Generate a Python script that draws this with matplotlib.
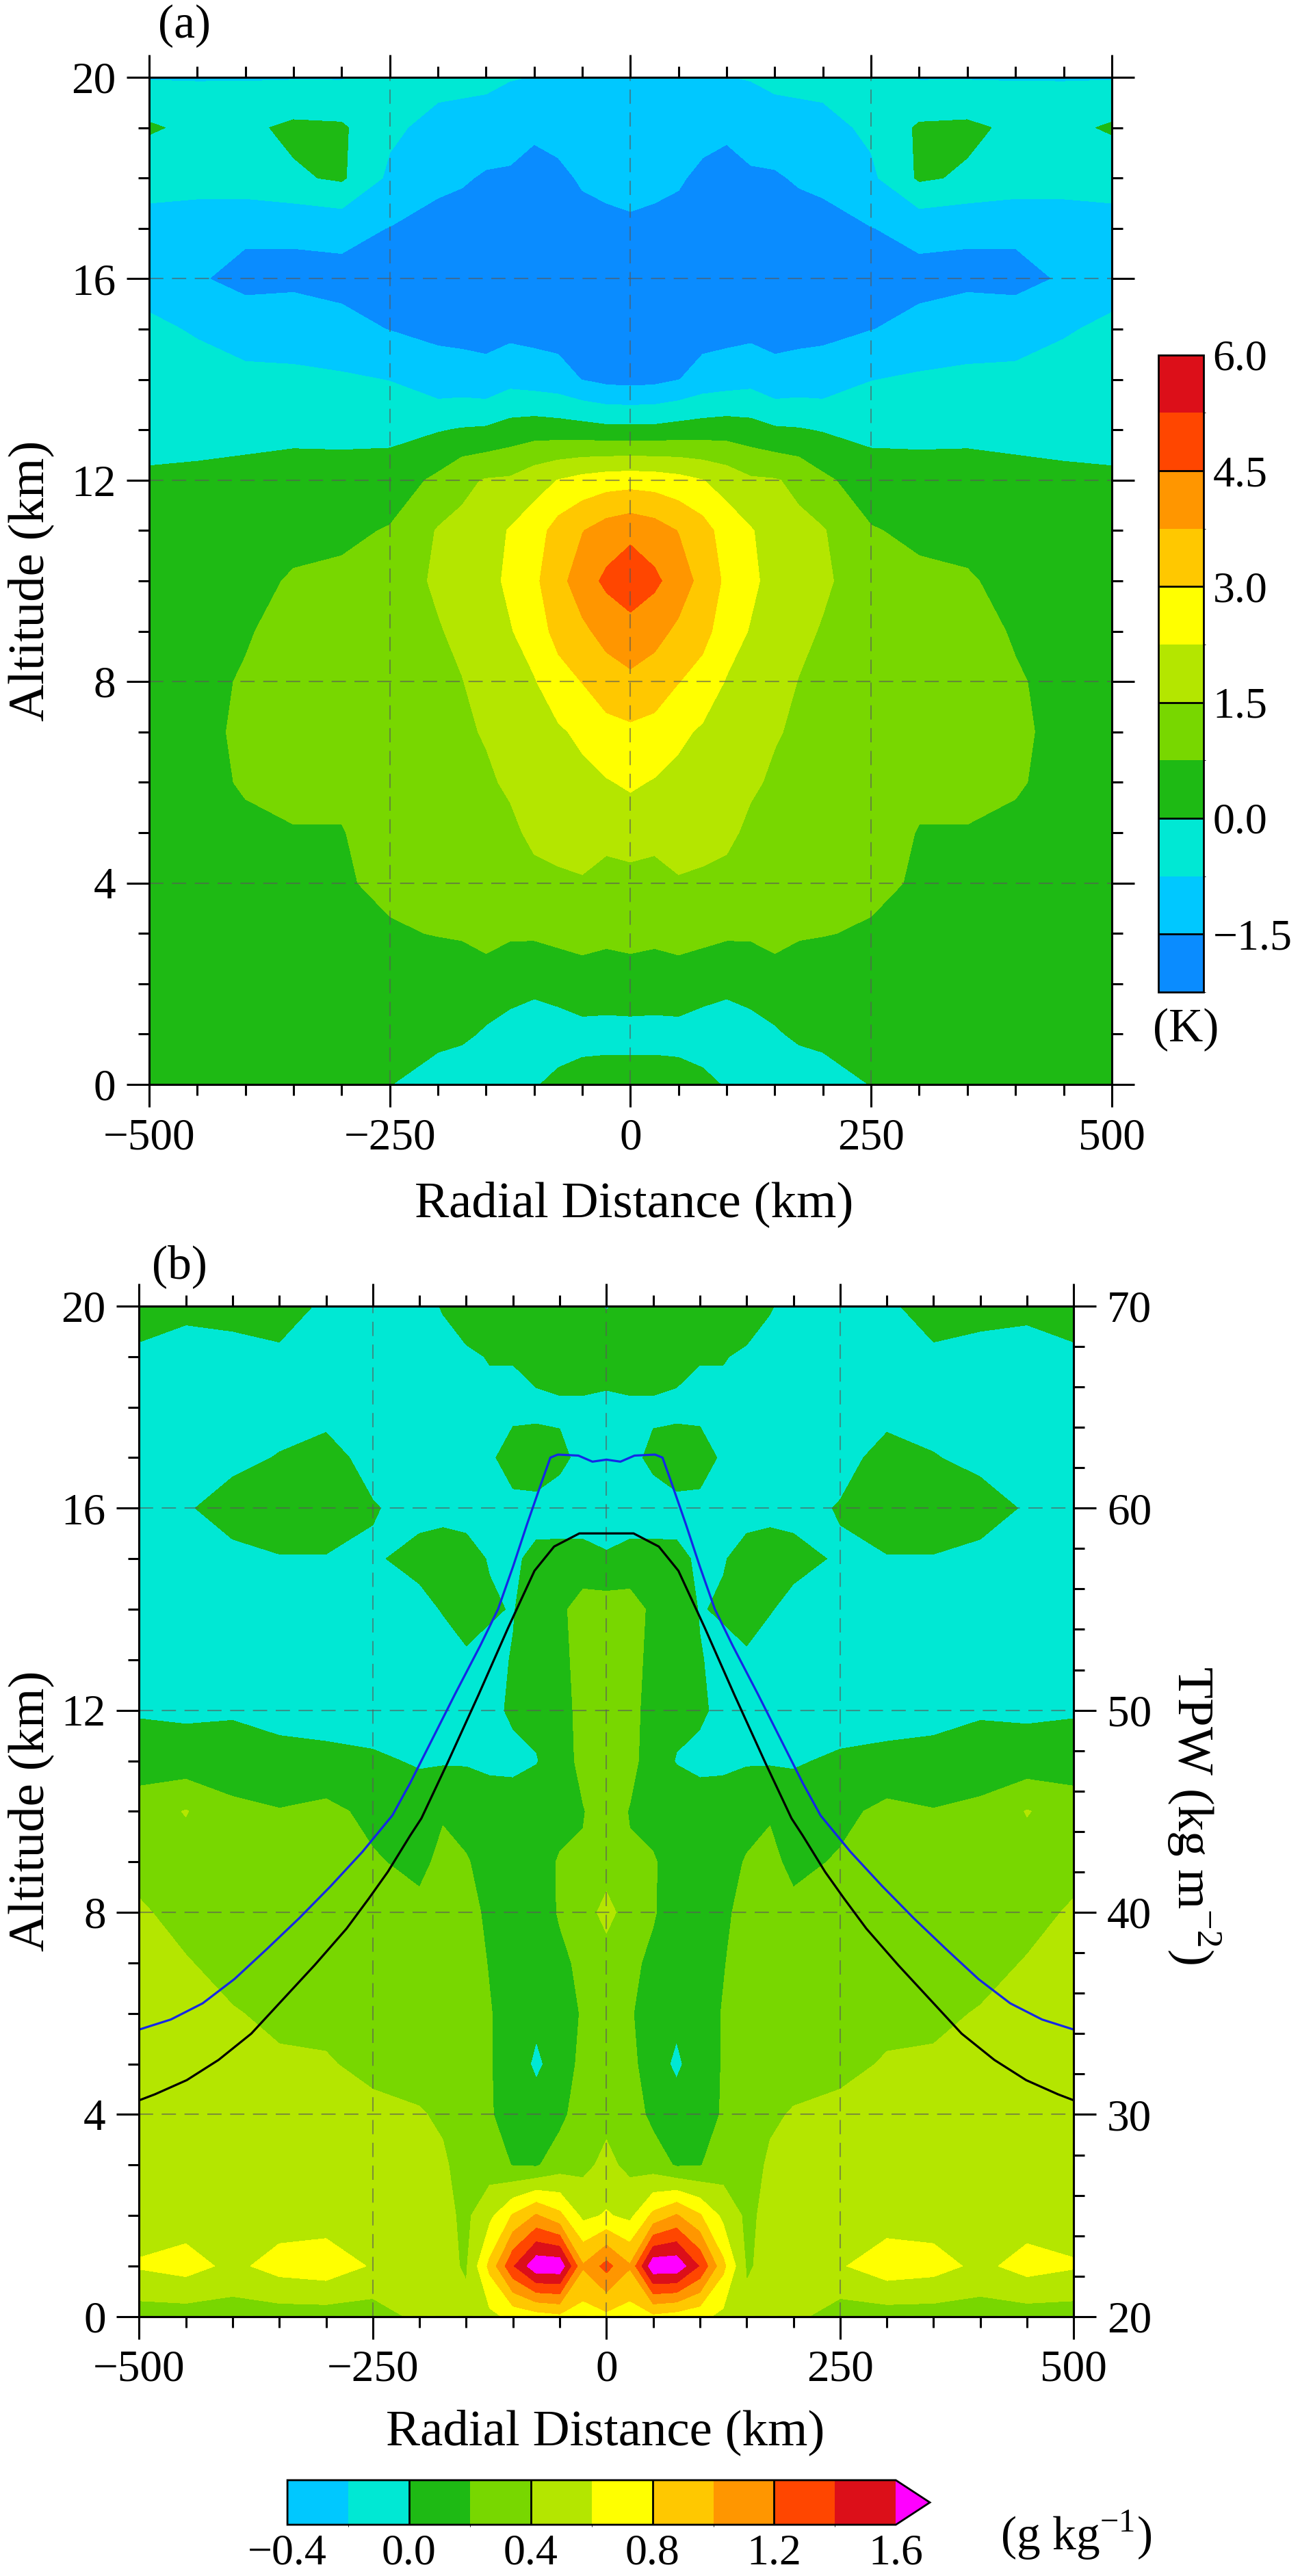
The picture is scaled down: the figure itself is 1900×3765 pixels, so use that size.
import numpy as np
import matplotlib
matplotlib.use("Agg")
import matplotlib.pyplot as plt
from matplotlib.colors import ListedColormap, BoundaryNorm
from matplotlib.ticker import MultipleLocator, FuncFormatter

plt.rcParams['font.family'] = ['Liberation Serif', 'DejaVu Serif']
plt.rcParams['mathtext.fontset'] = 'custom'
plt.rcParams['mathtext.rm'] = 'Liberation Serif'

# grid: radial distance of the right half (km), the fields are mirror symmetric
r_half = [0, 25, 50, 75, 100, 125, 150, 175, 200, 250, 300, 350, 400, 450, 500]
z_km = list(range(0, 21))

# (a) temperature anomaly (K); one list per radius, altitude 0..20 km
temp_cols = [
    [0.35, -0.25, 0.45, 0.95, 1.25, 1.85, 2.35, 2.85, 3.6, 4.2, 5.0, 4.3, 2.7, 0.2, -1.75, -2.0, -1.9, -1.55, -1.4, -1.2, -1.0],
    [0.35, -0.25, 0.4, 0.9, 1.2, 1.75, 2.2, 2.75, 3.4, 4.0, 4.65, 4.1, 2.65, 0.2, -1.7, -1.95, -1.85, -1.6, -1.4, -1.2, -1.0],
    [0.35, -0.3, 0.55, 0.9, 1.45, 1.75, 2.05, 2.4, 3.02, 3.6, 4.15, 3.72, 2.5, 0.3, -1.52, -1.9, -1.85, -1.65, -1.45, -1.2, -1.0],
    [0.15, -0.3, 0.25, 0.95, 1.4, 1.7, 1.9, 2.15, 2.7, 3.25, 3.5, 3.3, 2.27, 0.35, -1.2, -1.8, -1.85, -1.7, -1.6, -1.35, -1.0],
    [-0.05, -0.35, 0.15, 0.85, 1.3, 1.65, 1.85, 2.0, 2.2, 2.6, 2.85, 2.65, 1.95, 0.4, -1.1, -1.75, -1.85, -1.7, -1.6, -1.45, -0.77],
    [-0.3, -0.2, 0.2, 0.85, 1.15, 1.35, 1.6, 1.85, 2.0, 2.2, 2.4, 2.3, 1.6, 0.3, -1.0, -1.7, -1.85, -1.7, -1.55, -1.35, -0.7],
    [-0.45, -0.1, 0.45, 0.95, 1.1, 1.25, 1.4, 1.55, 1.75, 1.9, 2.0, 1.95, 1.55, 0.1, -1.3, -1.7, -1.8, -1.7, -1.55, -1.25, -0.5],
    [-0.55, 0.15, 0.45, 0.8, 1.0, 1.15, 1.3, 1.4, 1.48, 1.65, 1.75, 1.65, 1.35, 0.05, -1.2, -1.7, -1.85, -1.7, -1.45, -1.1, -0.5],
    [-0.35, 0.2, 0.45, 0.77, 0.95, 1.05, 1.15, 1.25, 1.35, 1.45, 1.6, 1.55, 0.9, -0.05, -1.2, -1.65, -1.8, -1.65, -1.4, -1.0, -0.5],
    [0.02, 0.3, 0.5, 0.7, 0.85, 0.95, 1.05, 1.15, 1.2, 1.2, 1.15, 0.8, 0.35, -0.2, -0.77, -1.52, -1.75, -1.52, -0.9, -0.6, -0.55],
    [0.2, 0.35, 0.45, 0.55, 0.7, 0.73, 0.85, 0.95, 1.0, 1.0, 0.9, 0.6, 0.3, -0.2, -0.65, -1.3, -1.7, -1.3, 0.1, 0.1, -0.8],
    [0.3, 0.4, 0.45, 0.5, 0.6, 0.73, 0.85, 0.95, 1.0, 0.95, 0.8, 0.6, 0.25, -0.15, -0.6, -1.1, -1.65, -1.4, -0.1, 0.15, -0.8],
    [0.3, 0.4, 0.45, 0.5, 0.55, 0.65, 0.8, 0.85, 0.8, 0.7, 0.6, 0.5, 0.2, -0.2, -0.5, -1.2, -1.65, -1.4, -0.3, -0.15, -0.8],
    [0.3, 0.35, 0.4, 0.45, 0.5, 0.55, 0.6, 0.6, 0.6, 0.55, 0.5, 0.4, 0.15, -0.25, -0.55, -0.8, -1.45, -1.1, -0.5, -0.2, -0.8],
    [0.3, 0.3, 0.35, 0.4, 0.45, 0.5, 0.5, 0.5, 0.5, 0.45, 0.4, 0.35, 0.1, -0.25, -0.5, -0.65, -0.95, -0.9, -0.6, 0.1, -0.8],
]

# (b) water vapour anomaly (g/kg); one list per radius, altitude 0..20 km
qv_cols = [
    [0.75, 1.27, 0.62, 0.45, 0.35, 0.3, 0.3, 0.3, 0.47, 0.3, 0.3, 0.3, 0.3, 0.3, 0.3, 0.02, -0.1, -0.1, -0.05, 0.1, -0.01],
    [0.7, 1.02, 0.55, 0.35, 0.3, 0.25, 0.22, 0.25, 0.3, 0.22, 0.19, 0.26, 0.28, 0.3, 0.3, 0.05, -0.08, -0.05, -0.03, 0.1, 0.06],
    [0.75, 1.75, 0.85, 0.3, 0.15, 0.1, 0.1, 0.15, 0.22, 0.22, 0.12, 0.1, 0.1, 0.12, 0.15, 0.05, -0.08, 0.04, -0.03, 0.1, 0.1],
    [0.7, 1.75, 1.02, 0.18, 0.1, -0.04, 0.05, 0.05, 0.08, 0.1, 0.12, -0.01, 0.05, 0.1, 0.1, 0.03, -0.05, 0.1, -0.05, 0.08, 0.1],
    [0.65, 1.38, 0.82, 0.19, 0.15, 0.12, 0.12, 0.12, 0.1, 0.1, 0.1, -0.05, 0.03, 0.01, -0.01, -0.02, -0.05, 0.08, -0.05, 0.01, 0.1],
    [0.55, 0.85, 0.55, 0.3, 0.21, 0.21, 0.21, 0.19, 0.17, 0.15, 0.12, -0.05, -0.05, -0.05, 0.02, -0.01, -0.05, -0.03, -0.05, 0.01, 0.1],
    [0.45, 0.38, 0.36, 0.34, 0.32, 0.3, 0.3, 0.28, 0.25, 0.21, 0.15, -0.02, -0.08, -0.03, 0.08, 0.05, -0.05, -0.08, -0.05, -0.03, 0.1],
    [0.45, 0.45, 0.45, 0.42, 0.38, 0.35, 0.32, 0.3, 0.3, 0.25, 0.18, -0.02, -0.1, -0.08, 0.01, 0.08, -0.05, -0.1, -0.1, -0.05, 0.01],
    [0.45, 0.5, 0.48, 0.45, 0.41, 0.35, 0.3, 0.3, 0.25, 0.15, 0.1, -0.02, -0.1, -0.1, -0.05, 0.05, -0.05, -0.1, -0.1, -0.1, -0.05],
    [0.3, 0.58, 0.5, 0.48, 0.43, 0.37, 0.35, 0.32, 0.3, 0.22, 0.15, 0.03, -0.1, -0.12, -0.1, -0.02, 0.01, -0.05, -0.1, -0.1, -0.08],
    [0.3, 0.72, 0.5, 0.48, 0.45, 0.41, 0.37, 0.35, 0.32, 0.3, 0.25, 0.05, -0.08, -0.12, -0.1, -0.01, 0.1, 0.05, -0.05, -0.05, -0.02],
    [0.3, 0.68, 0.5, 0.48, 0.45, 0.42, 0.37, 0.33, 0.3, 0.22, 0.21, 0.05, -0.05, -0.12, -0.1, -0.01, 0.1, 0.01, -0.08, -0.02, 0.05],
    [0.3, 0.55, 0.5, 0.5, 0.47, 0.45, 0.41, 0.35, 0.32, 0.3, 0.25, 0.08, -0.02, -0.1, -0.1, -0.05, 0.08, -0.05, -0.08, -0.05, 0.05],
    [0.3, 0.68, 0.5, 0.5, 0.5, 0.47, 0.45, 0.41, 0.35, 0.32, 0.41, 0.08, -0.03, -0.1, -0.1, -0.08, -0.02, -0.08, -0.08, -0.05, 0.03],
    [0.3, 0.62, 0.5, 0.5, 0.5, 0.5, 0.47, 0.45, 0.42, 0.35, 0.3, 0.1, -0.02, -0.08, -0.1, -0.08, -0.05, -0.05, -0.01, -0.02, 0.05],
]

# total precipitable water (kg m-2), right half
tpw_r_black = [0, 29, 56, 77, 105, 137, 170, 198, 210, 234, 254, 278, 312, 346, 380, 415, 449, 483, 500]
tpw_black = [58.75, 58.75, 58.1, 56.9, 54.1, 50.75, 47.4, 44.65, 43.8, 42.0, 40.7, 39.2, 37.4, 35.7, 34.0, 32.7, 31.7, 31.0, 30.7]
tpw_r_blue = [0, 15, 30, 52, 60, 70, 85, 100, 116, 135, 162, 186, 210, 229, 261, 295, 329, 363, 398, 432, 466, 500]
tpw_blue = [62.4, 62.3, 62.6, 62.65, 62.5, 61.2, 59.2, 57.1, 55.0, 53.2, 50.8, 48.6, 46.4, 44.8, 43.0, 41.3, 39.7, 38.2, 36.7, 35.5, 34.7, 34.2]

temp_levels = [-2.25, -1.5, -0.75, 0.0, 0.75, 1.5, 2.25, 3.0, 3.75, 4.5, 5.25, 6.0]
temp_ticks = [-1.5, 0.0, 1.5, 3.0, 4.5, 6.0]
qv_levels = [-0.4, -0.2, 0.0, 0.2, 0.4, 0.6, 0.8, 1.0, 1.2, 1.4, 1.6]
qv_ticks = [-0.4, 0.0, 0.4, 0.8, 1.2, 1.6]

c_blue, c_sky, c_turq = '#0A8CFF', '#00C8FF', '#00E8D4'
c_green, c_lgreen, c_ygreen = '#1EBA14', '#78D700', '#B4E600'
c_yellow, c_gold, c_orange = '#FFFF00', '#FFC800', '#FF9600'
c_redor, c_red, c_mag = '#FF4600', '#DC0F19', '#FF00FF'

temp_colors = [c_blue, c_sky, c_turq, c_green, c_lgreen, c_ygreen,
               c_yellow, c_gold, c_orange, c_redor, c_red]
qv_colors = [c_sky, c_turq, c_green, c_lgreen, c_ygreen,
             c_yellow, c_gold, c_orange, c_redor, c_red]


def mirror(cols):
    half = np.array(cols).T
    return np.hstack([half[:, :0:-1], half])


r_arr = np.array(r_half)
r_full = np.concatenate([-r_arr[:0:-1], r_arr])
R, Z = np.meshgrid(r_full, np.array(z_km))
T = mirror(temp_cols)
Q = mirror(qv_cols)


def full_line(rr, vv):
    rr = np.array(rr)
    vv = np.array(vv)
    return np.concatenate([-rr[:0:-1], rr]), np.concatenate([vv[:0:-1], vv])


minus_fmt = FuncFormatter(lambda v, p: ('%.1f' % v).replace('-', '\u2212'))

fig = plt.figure(figsize=(19, 37.65), dpi=100)
ax_a = fig.add_axes([0.1147, 0.5790, 0.7405, 0.3910])
ax_b = fig.add_axes([0.1070, 0.1007, 0.7190, 0.3923])
cax_a = fig.add_axes([0.8910, 0.6149, 0.0347, 0.2473])
cax_b = fig.add_axes([0.2211, 0.0199, 0.4942, 0.0173])


def style_axes(ax, right=True):
    ax.set_xlim(-500, 500)
    ax.set_ylim(0, 20)
    ax.xaxis.set_major_locator(MultipleLocator(250))
    ax.xaxis.set_minor_locator(MultipleLocator(50))
    ax.yaxis.set_major_locator(MultipleLocator(4))
    ax.yaxis.set_minor_locator(MultipleLocator(1))
    ax.tick_params(which='both', direction='out', top=True, right=right,
                   labelsize=47, width=2.2, pad=11)
    ax.tick_params(which='major', length=24)
    ax.tick_params(which='minor', length=11.5)
    for s in ax.spines.values():
        s.set_linewidth(2.2)
    ax.grid(True, which='major', color='0.35', alpha=0.6, lw=1.5,
            ls=(0, (10, 6)))


# panel (a)
cmap_a = ListedColormap(temp_colors)
norm_a = BoundaryNorm(temp_levels, len(temp_colors))
cf_a = ax_a.contourf(R, Z, T, levels=temp_levels, cmap=cmap_a, norm=norm_a)
style_axes(ax_a)

cb_a = fig.colorbar(cf_a, cax=cax_a, ticks=temp_ticks, format=minus_fmt)
cb_a.ax.tick_params(labelsize=46, length=0, pad=10)
cb_a.outline.set_linewidth(2)
for v in temp_ticks[:-1]:
    cax_a.axhline(v, color='k', lw=2)

# panel (b)
cmap_b = ListedColormap(qv_colors)
cmap_b.set_over(c_mag)
norm_b = BoundaryNorm(qv_levels, len(qv_colors))
cf_b = ax_b.contourf(R, Z, Q, levels=qv_levels, cmap=cmap_b, norm=norm_b,
                     extend='max')
style_axes(ax_b, right=False)

ax_t = ax_b.twinx()
ax_t.set_ylim(20, 70)
ax_t.yaxis.set_major_locator(MultipleLocator(10))
ax_t.yaxis.set_minor_locator(MultipleLocator(2))
ax_t.tick_params(which='both', direction='out', labelsize=47, width=2.2, pad=11)
ax_t.tick_params(which='major', length=24)
ax_t.tick_params(which='minor', length=11.5)
for s in ax_t.spines.values():
    s.set_linewidth(2.2)

xb, yb = full_line(tpw_r_blue, tpw_blue)
xk, yk = full_line(tpw_r_black, tpw_black)
ax_t.plot(xb, yb, color='#1428E6', lw=2.3)
ax_t.plot(xk, yk, color='black', lw=2.3)

cb_b = fig.colorbar(cf_b, cax=cax_b, orientation='horizontal', ticks=qv_ticks,
                    format=minus_fmt, extendfrac=0.056)
cb_b.ax.tick_params(labelsize=46, length=0, pad=10)
cb_b.outline.set_linewidth(2)
for v in [0.0, 0.4, 0.8, 1.2]:
    cax_b.axvline(v, color='k', lw=2)

# labels
fig.text(270 / 1900, 1 - 38 / 3765, '(a)', fontsize=50, ha='center', va='center')
fig.text(262 / 1900, 1 - 1851 / 3765, '(b)', fontsize=50, ha='center', va='center')
fig.text(927 / 1900, 1 - 1760 / 3765, 'Radial Distance (km)', fontsize=54,
         ha='center', va='center')
fig.text(885 / 1900, 1 - 3555 / 3765, 'Radial Distance (km)', fontsize=54,
         ha='center', va='center')
fig.text(45 / 1900, 1 - 849 / 3765, 'Altitude (km)', fontsize=54, rotation=90,
         ha='center', va='center')
fig.text(45 / 1900, 1 - 2647 / 3765, 'Altitude (km)', fontsize=54, rotation=90,
         ha='center', va='center')
fig.text(1745 / 1900, 1 - 2653 / 3765, r'TPW (kg m$^{\mathregular{-2}}$)',
         fontsize=54, rotation=270, ha='center', va='center')
fig.text(1733 / 1900, 1 - 1505 / 3765, '(K)', fontsize=50, ha='center', va='center')
fig.text(1462 / 1900, 1 - 3705 / 3765, r'(g kg$^{\mathregular{-1}}$)', fontsize=50,
         ha='left', va='center')

fig.savefig('out.png', dpi=100)
